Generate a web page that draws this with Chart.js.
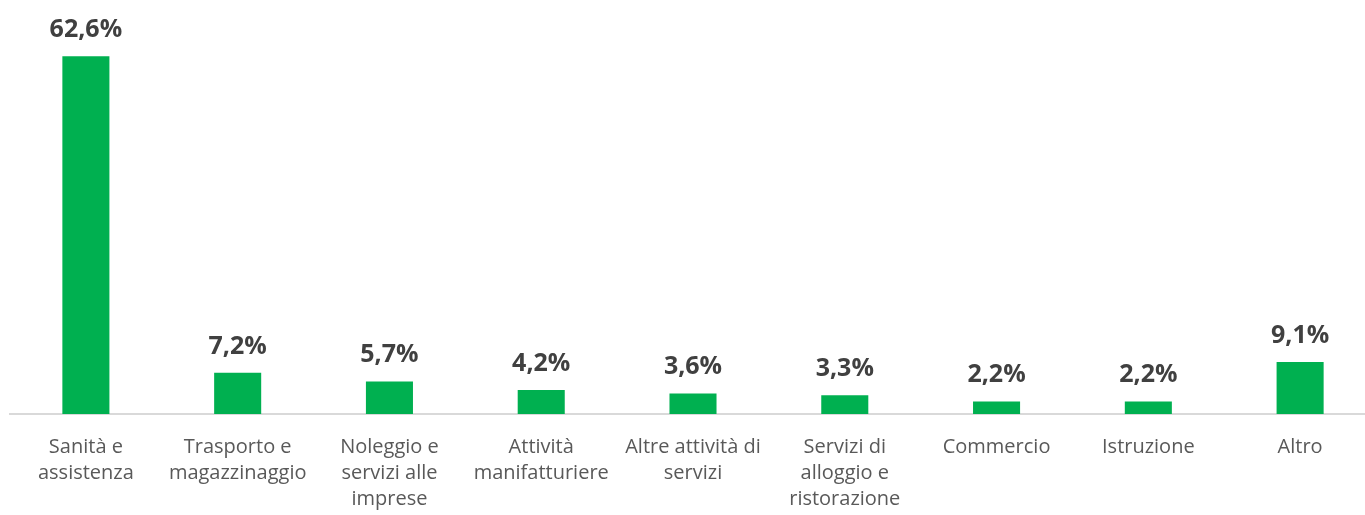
<!DOCTYPE html>
<html>
<head>
<meta charset="utf-8">
<script src="https://cdn.jsdelivr.net/npm/chart.js@4"></script>
<style>
  html, body { margin: 0; padding: 0; background: #fff; overflow: hidden; }
  #wrap { width: 1376px; height: 515px; }
</style>
</head>
<body>
<div id="wrap"><canvas id="chart"></canvas></div>
<script>
// Categories (multi-line as in the reference)
const categories = [
  ["Sanità e", "assistenza"],
  ["Trasporto e", "magazzinaggio"],
  ["Noleggio e", "servizi alle", "imprese"],
  ["Attività", "manifatturiere"],
  ["Altre attività di", "servizi"],
  ["Servizi di", "alloggio e", "ristorazione"],
  "Commercio",
  "Istruzione",
  "Altro"
];
const shares = [62.6, 7.2, 5.7, 4.2, 3.6, 3.3, 2.2, 2.2, 9.1];

const FONT = "'Open Sans', sans-serif";

// draw the value labels above each bar
const valueLabels = {
  id: "valueLabels",
  afterDatasetsDraw(chart) {
    const ctx = chart.ctx;
    const meta = chart.getDatasetMeta(0);
    ctx.save();
    ctx.font = "bold 25px " + FONT;
    ctx.fillStyle = "#404040";
    ctx.textAlign = "center";
    ctx.textBaseline = "alphabetic";
    meta.data.forEach((bar, i) => {
      const txt = shares[i].toFixed(1).replace(".", ",") + "%";
      ctx.fillText(txt, bar.x, bar.y - 19);
    });
    ctx.restore();
  }
};

new Chart(document.getElementById("chart"), {
  type: "bar",
  data: {
    labels: categories,
    datasets: [{
      data: shares,
      backgroundColor: "#00B050",
      borderWidth: 0,
      barPercentage: 0.31,
      categoryPercentage: 1
    }]
  },
  options: {
    responsive: true,
    maintainAspectRatio: false,
    animation: false,
    layout: { padding: { left: 10, right: 0, top: 14, bottom: -9 } },
    plugins: {
      legend: { display: false },
      tooltip: { enabled: false }
    },
    scales: {
      x: {
        grid: { display: false },
        border: { color: "#D9D9D9", width: 2 },
        ticks: {
          color: "#595959",
          font: { family: FONT, size: 20, lineHeight: "26px" },
          padding: 12,
          maxRotation: 0,
          autoSkip: false
        }
      },
      y: {
        display: false,
        min: 0,
        max: 70
      }
    }
  },
  plugins: [valueLabels]
});
</script>
</body>
</html>
